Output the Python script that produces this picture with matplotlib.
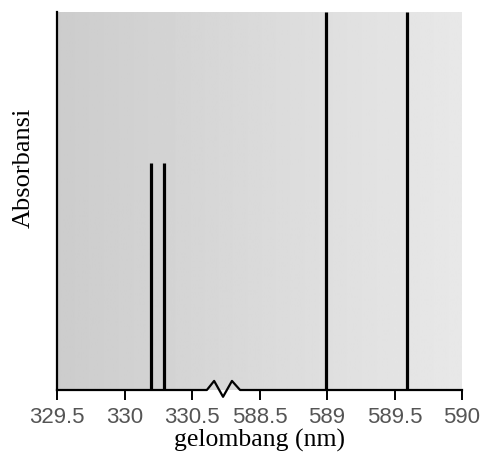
import numpy as np
import matplotlib
matplotlib.use("Agg")
import matplotlib.pyplot as plt

# emission lines (nm) and relative absorbance
wavelengths = [330.20, 330.29, 588.99, 589.59]
heights = [0.60, 0.60, 1.0, 1.0]
tick_values = [329.5, 330, 330.5, 588.5, 589, 589.5, 590]
tick_labels = ["329.5", "330", "330.5", "588.5", "589", "589.5", "590"]


# broken axis: 329.5-330.5 -> 0..2, 588.5-590 -> 3..6
def fwd(w):
    w = np.asarray(w, dtype=float)
    return np.where(w <= 330.5, (w - 329.5) * 2,
                    np.where(w >= 588.5, 3 + (w - 588.5) * 2,
                             2 + (w - 330.5) / 258.0))


def inv(p):
    p = np.asarray(p, dtype=float)
    return np.where(p <= 2, 329.5 + p / 2,
                    np.where(p >= 3, 588.5 + (p - 3) / 2,
                             330.5 + (p - 2) * 258.0))


fig = plt.figure(figsize=(4.82, 4.68), dpi=100)
ax = fig.add_axes([57 / 482, 78 / 468, 405 / 482, 378 / 468])
ax.set_xscale("function", functions=(fwd, inv))
ax.set_xlim(329.5, 590)
ax.set_ylim(0, 1)

# gray gradient background
grad = np.linspace(0.80, 0.91, 256).reshape(1, -1)
ax.imshow(grad, extent=[0, 1, 0, 1], transform=ax.transAxes, aspect="auto",
          cmap="gray", vmin=0, vmax=1, zorder=0)

ax.vlines(wavelengths, 0, heights, colors="black", linewidth=2.3, zorder=3)

for s in ["top", "right", "bottom"]:
    ax.spines[s].set_visible(False)
ax.spines["left"].set_linewidth(1.6)

# bottom axis line with break symbol
bx = [0, 0.370, 0.388, 0.410, 0.432, 0.452, 1]
by = [0, 0, 0.024, -0.018, 0.024, 0, 0]
ax.plot(bx, by, transform=ax.transAxes, color="black", linewidth=1.6,
        clip_on=False, zorder=4)

ax.set_xticks(tick_values)
ax.set_xticklabels(tick_labels, fontfamily="Liberation Sans", fontsize=16,
                   color="#555555")
ax.tick_params(axis="x", length=7, width=1.4, color="black", pad=5)
ax.set_yticks([])

ax.set_xlabel("gelombang (nm)", fontfamily="Liberation Serif", fontsize=18.5,
              labelpad=1)
ax.set_ylabel("Absorbansi", fontfamily="Liberation Serif", fontsize=19)
ax.yaxis.set_label_coords(-22 / 405, (390 - 168) / 378)

fig.savefig("out.png", dpi=100)
